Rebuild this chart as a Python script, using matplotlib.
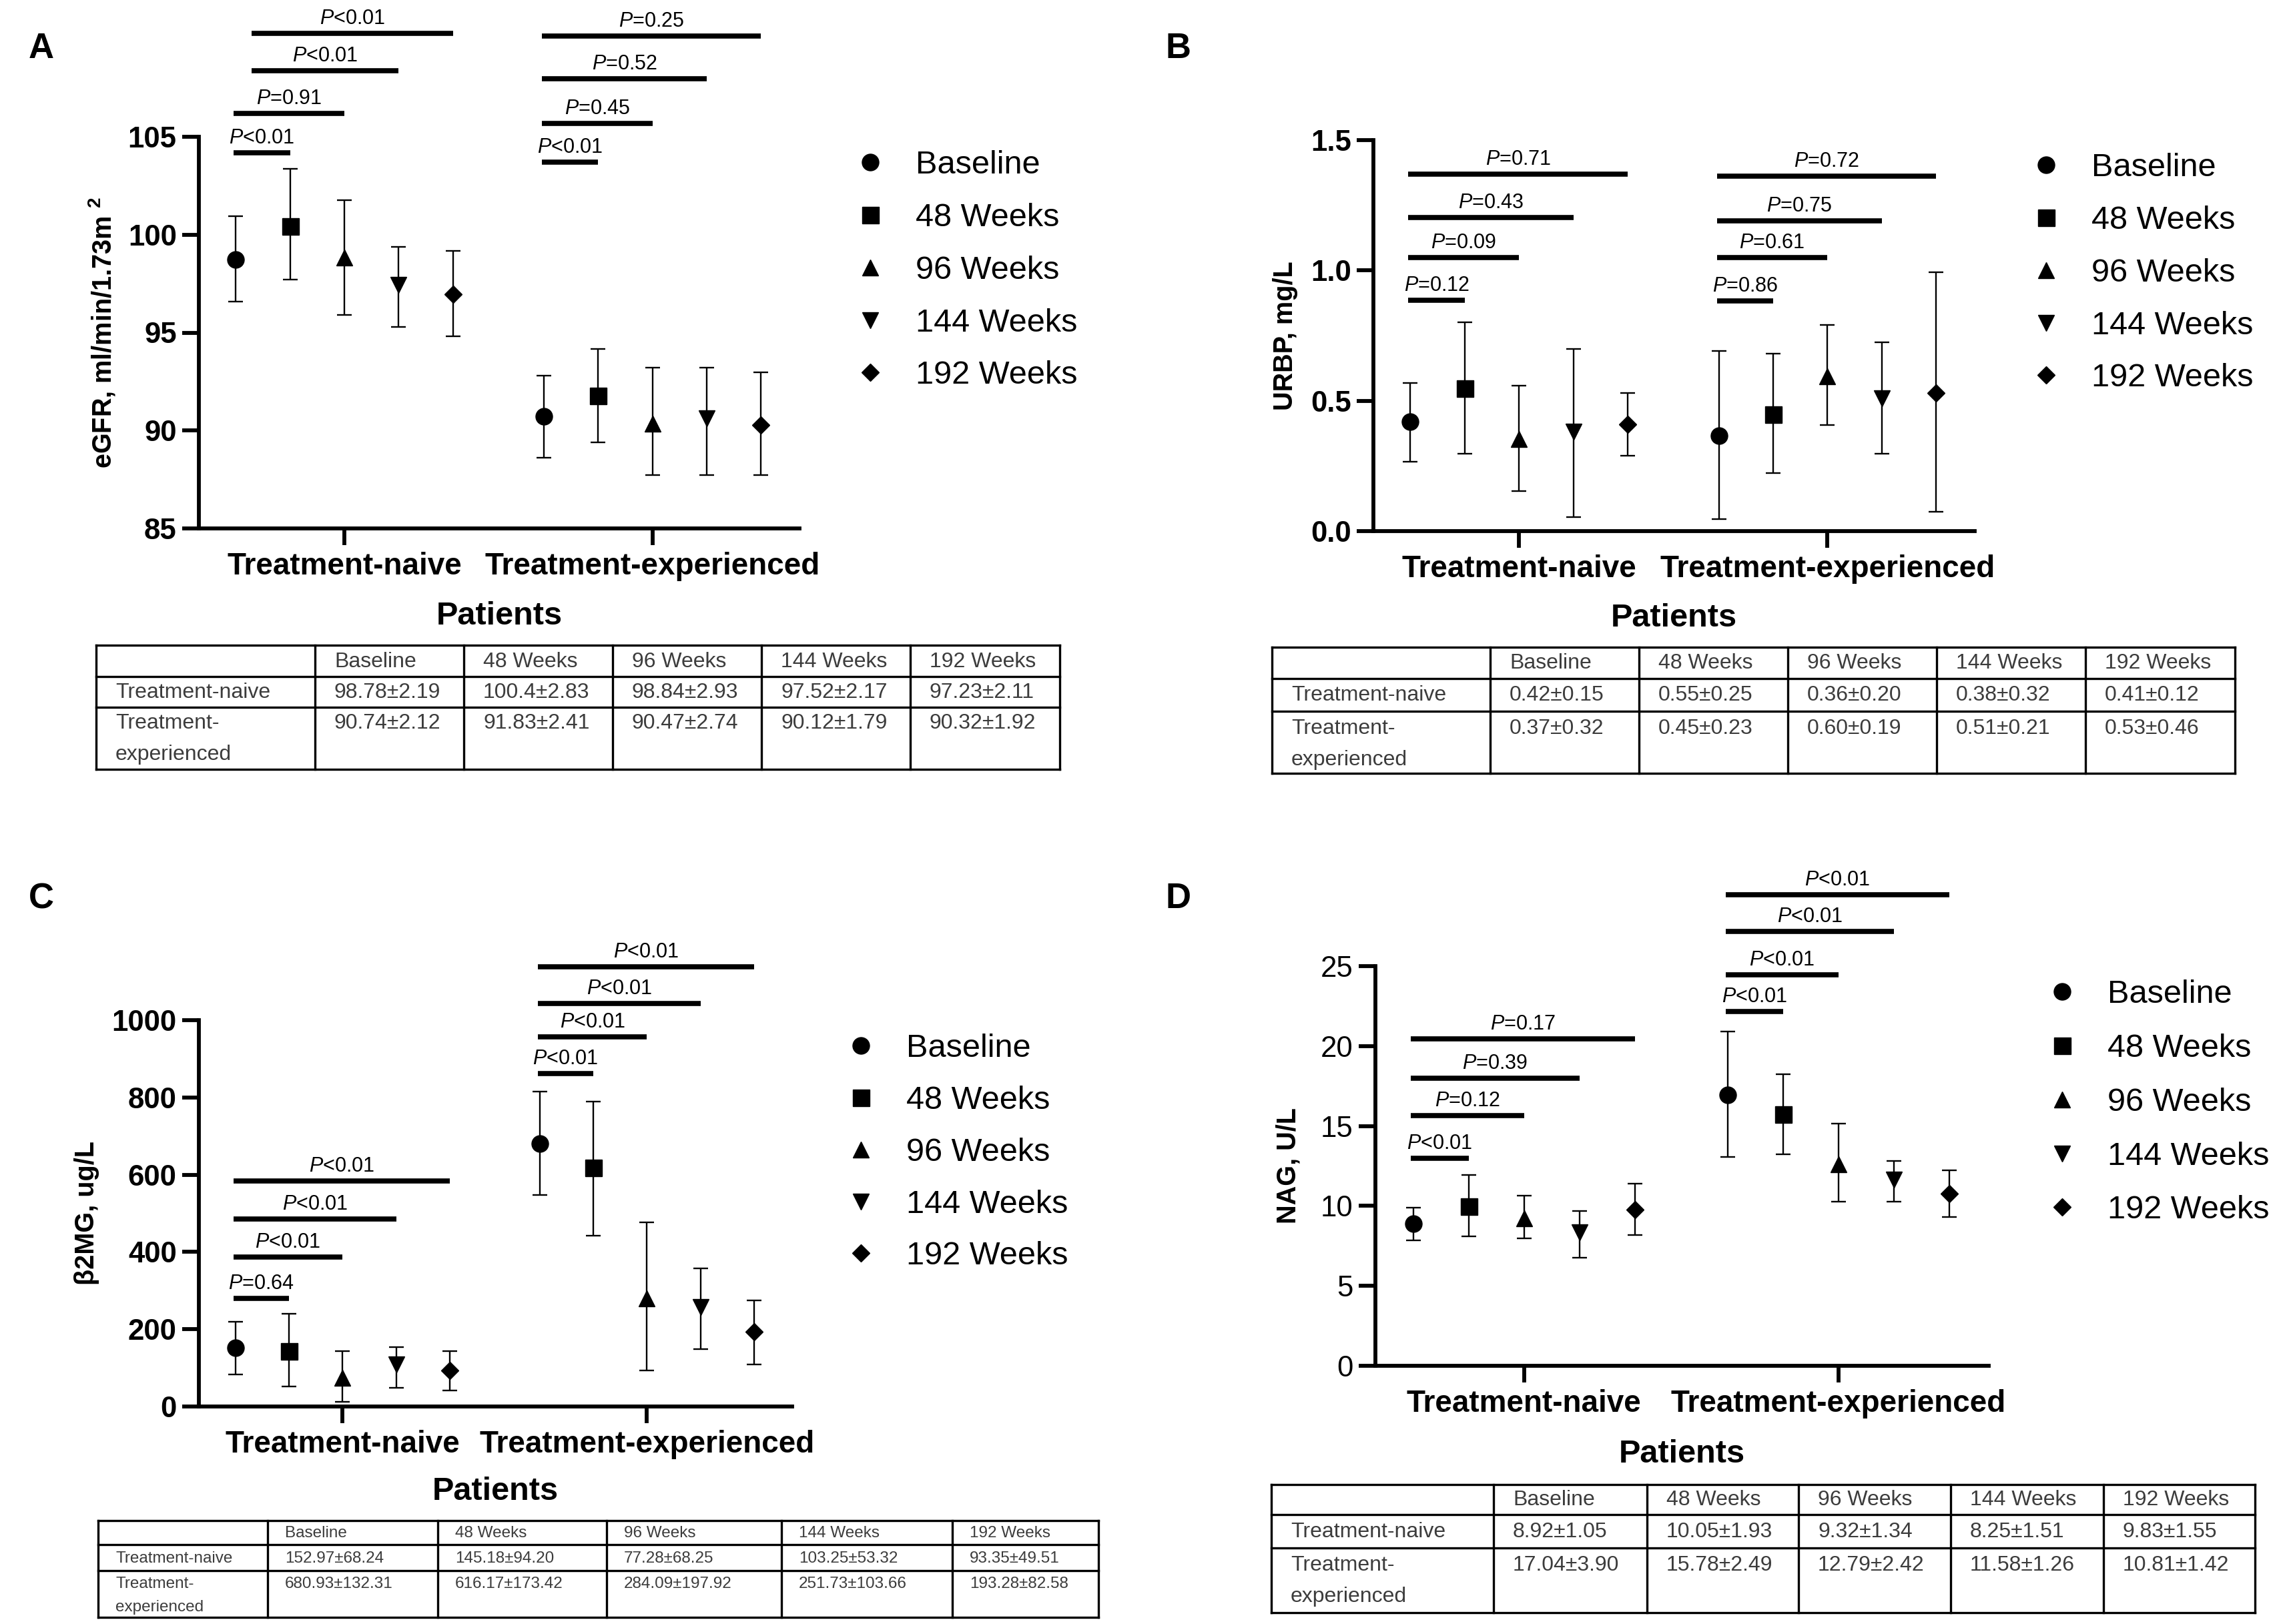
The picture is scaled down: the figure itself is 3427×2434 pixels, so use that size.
import numpy as np
import matplotlib
matplotlib.use('Agg')
import matplotlib.pyplot as plt
from matplotlib.lines import Line2D

plt.rcParams['font.family'] = ['Liberation Sans', 'DejaVu Sans']
plt.rcParams['mathtext.fontset'] = 'custom'
plt.rcParams['mathtext.it'] = 'Liberation Sans:italic'
plt.rcParams['mathtext.rm'] = 'Liberation Sans'
plt.rcParams['mathtext.bf'] = 'Liberation Sans:bold'

# ---------------- data ----------------
groups = ['Treatment-naive', 'Treatment-experienced']
timepoints = ['Baseline', '48 Weeks', '96 Weeks', '144 Weeks', '192 Weeks']
row_labels = ['Treatment-naive', 'Treatment-\nexperienced']

# Panel A: eGFR
egfr_naive_mean = [98.74, 100.44, 98.82, 97.44, 96.97]
egfr_naive_low = [96.60, 97.70, 95.90, 95.30, 94.80]
egfr_naive_high = [100.96, 103.38, 101.77, 99.37, 99.16]
egfr_exp_mean = [90.74, 91.78, 90.35, 90.61, 90.29]
egfr_exp_low = [88.62, 89.41, 87.71, 87.71, 87.71]
egfr_exp_high = [92.80, 94.18, 93.21, 93.21, 92.98]
egfr_p_naive = ['<0.01', '=0.91', '<0.01', '<0.01']
egfr_p_exp = ['<0.01', '=0.45', '=0.52', '=0.25']
egfr_bar_naive = [104.17, 106.2, 108.36, 110.27]
egfr_bar_exp = [103.70, 105.68, 107.95, 110.16]
egfr_bar_start_naive = [0, 0, 0.33, 0.33]
egfr_table_naive = ['98.78±2.19', '100.4±2.83', '98.84±2.93', '97.52±2.17', '97.23±2.11']
egfr_table_exp = ['90.74±2.12', '91.83±2.41', '90.47±2.74', '90.12±1.79', '90.32±1.92']

# Panel B: URBP
urbp_naive_mean = [0.420, 0.549, 0.353, 0.382, 0.410]
urbp_naive_low = [0.265, 0.298, 0.153, 0.055, 0.288]
urbp_naive_high = [0.567, 0.800, 0.559, 0.700, 0.529]
urbp_exp_mean = [0.367, 0.447, 0.594, 0.510, 0.529]
urbp_exp_low = [0.047, 0.222, 0.408, 0.298, 0.073]
urbp_exp_high = [0.692, 0.680, 0.792, 0.724, 0.992]
urbp_p_naive = ['=0.12', '=0.09', '=0.43', '=0.71']
urbp_p_exp = ['=0.86', '=0.61', '=0.75', '=0.72']
urbp_bar_naive = [0.886, 1.049, 1.202, 1.369]
urbp_bar_exp = [0.882, 1.049, 1.190, 1.361]
urbp_table_naive = ['0.42±0.15', '0.55±0.25', '0.36±0.20', '0.38±0.32', '0.41±0.12']
urbp_table_exp = ['0.37±0.32', '0.45±0.23', '0.60±0.19', '0.51±0.21', '0.53±0.46']

# Panel C: beta2MG
b2mg_naive_mean = [152.5, 143.4, 74.3, 109.5, 93.9]
b2mg_naive_low = [83.4, 52.0, 11.7, 48.2, 41.7]
b2mg_naive_high = [219.0, 240.0, 143.4, 153.8, 143.4]
b2mg_exp_mean = [680.6, 618.0, 280.3, 256.8, 193.0]
b2mg_exp_low = [547.6, 442.0, 93.9, 148.6, 108.2]
b2mg_exp_high = [814.9, 790.0, 477.2, 357.2, 275.1]
b2mg_p_naive = ['=0.64', '<0.01', '<0.01', '<0.01']
b2mg_p_exp = ['<0.01', '<0.01', '<0.01', '<0.01']
b2mg_bar_naive = [280, 387, 486, 583]
b2mg_bar_exp = [862, 957, 1043, 1138]
b2mg_table_naive = ['152.97±68.24', '145.18±94.20', '77.28±68.25', '103.25±53.32', '93.35±49.51']
b2mg_table_exp = ['680.93±132.31', '616.17±173.42', '284.09±197.92', '251.73±103.66', '193.28±82.58']

# Panel D: NAG
nag_naive_mean = [8.89, 9.99, 9.24, 8.35, 9.77]
nag_naive_low = [7.85, 8.10, 7.98, 6.75, 8.20]
nag_naive_high = [9.90, 11.95, 10.66, 9.68, 11.38]
nag_exp_mean = [16.96, 15.73, 12.61, 11.63, 10.78]
nag_exp_low = [13.08, 13.24, 10.28, 10.28, 9.30]
nag_exp_high = [20.90, 18.22, 15.16, 12.83, 12.23]
nag_p_naive = ['<0.01', '=0.12', '=0.39', '=0.17']
nag_p_exp = ['<0.01', '<0.01', '<0.01', '<0.01']
nag_bar_naive = [12.99, 15.67, 18.0, 20.46]
nag_bar_exp = [22.16, 24.46, 27.18, 29.48]
nag_table_naive = ['8.92±1.05', '10.05±1.93', '9.32±1.34', '8.25±1.51', '9.83±1.55']
nag_table_exp = ['17.04±3.90', '15.78±2.49', '12.79±2.42', '11.58±1.26', '10.81±1.42']

# ---------------- figure ----------------
W, H = 3427, 2434
fig = plt.figure(figsize=(W / 100, H / 100), dpi=100)

def fx(x):
    return x / W

def fy(y):
    return 1 - y / H

markers = ['o', 's', '^', 'v', 'D']
msizes = [18, 18, 17, 17, 13.5]
d = 0.176
XLIM = (-0.472, 1.477)


def panel(box, ylim, yticks, yticklabels, ylabel, ylab_x, tick_bold,
          naive, exp, bars, legend_pos, legend_pitch, patients_dy):
    l, r, t, b = box
    ax = fig.add_axes([fx(l), fy(b), fx(r - l), (b - t) / H])
    for i in range(5):
        xs = [0 + (i - 2) * d, 1 + (i - 2) * d]
        means = [naive[0][i], exp[0][i]]
        lows = [naive[1][i], exp[1][i]]
        highs = [naive[2][i], exp[2][i]]
        yerr = [np.array(means) - np.array(lows), np.array(highs) - np.array(means)]
        ax.errorbar(xs, means, yerr=yerr, fmt=markers[i], color='k', ms=msizes[i],
                    capsize=8, elinewidth=1.7, capthick=1.7, clip_on=False, zorder=3)
    ax.set_xlim(*XLIM)
    ax.set_ylim(*ylim)
    ax.set_yticks(yticks)
    ax.set_yticklabels(yticklabels, fontsize=31.5,
                       fontweight='bold' if tick_bold else 'normal')
    ax.set_xticks([0, 1])
    ax.set_xticklabels(groups, fontsize=33, fontweight='bold')
    for s in ['top', 'right']:
        ax.spines[s].set_visible(False)
    for s in ['left', 'bottom']:
        ax.spines[s].set_linewidth(4.2)
    ax.tick_params(axis='both', length=18, width=4.2, pad=6)
    ax.tick_params(axis='x', pad=7)
    ax.set_ylabel(ylabel, fontsize=28.5, fontweight='bold', va='center')
    ax.yaxis.set_label_coords((ylab_x - l) / (r - l), 0.5)
    ax.text(0.5, -patients_dy / (b - t), 'Patients', transform=ax.transAxes,
            ha='center', va='center', fontsize=35, fontweight='bold')
    # significance bars
    for g, (ys_, labs, starts) in enumerate(bars):
        for k in range(4):
            x0 = g + (starts[k] - 2) * d - 0.04 * d
            x1 = g + (k - 1) * d
            ax.plot([x0, x1], [ys_[k], ys_[k]], color='k', lw=5.5,
                    solid_capstyle='butt', clip_on=False)
            ax.annotate(r'$\mathit{P}$' + labs[k], ((x0 + x1) / 2, ys_[k]),
                        xytext=(0, 5), textcoords='offset points', ha='center',
                        va='bottom', fontsize=22, annotation_clip=False)
    # legend
    F = 35 / 0.72
    mx, my = legend_pos
    handles = [Line2D([], [], ls='none', marker=m, color='k', ms=s)
               for m, s in zip(markers, msizes)]
    ax.legend(handles, timepoints, loc='upper left',
              bbox_to_anchor=(fx(mx - 0.5 * F), fy(my - 0.6 * F + 11)),
              bbox_transform=fig.transFigure, frameon=False, fontsize=35,
              handlelength=1.0, handletextpad=0.9,
              labelspacing=(legend_pitch - 45.1) / F,
              borderpad=0, borderaxespad=0)
    return ax


panel((298, 1198, 205, 792), (85, 105), [85, 90, 95, 100, 105],
      ['85', '90', '95', '100', '105'], r'eGFR, ml/min/1.73m $^{\mathbf{2}}$', 152, True,
      (egfr_naive_mean, egfr_naive_low, egfr_naive_high),
      (egfr_exp_mean, egfr_exp_low, egfr_exp_high),
      [(egfr_bar_naive, egfr_p_naive, egfr_bar_start_naive),
       (egfr_bar_exp, egfr_p_exp, [0, 0, 0, 0])],
      (1304, 243), 79, 132)

panel((2058, 2959, 210, 796), (0, 1.5), [0, 0.5, 1.0, 1.5],
      ['0.0', '0.5', '1.0', '1.5'], 'URBP, mg/L', 1926, True,
      (urbp_naive_mean, urbp_naive_low, urbp_naive_high),
      (urbp_exp_mean, urbp_exp_low, urbp_exp_high),
      [(urbp_bar_naive, urbp_p_naive, [0, 0, 0, 0]),
       (urbp_bar_exp, urbp_p_exp, [0, 0, 0, 0])],
      (3066, 247), 79, 130)

panel((298, 1187, 1529, 2108), (0, 1000), [0, 200, 400, 600, 800, 1000],
      ['0', '200', '400', '600', '800', '1000'], 'β2MG, ug/L', 130, True,
      (b2mg_naive_mean, b2mg_naive_low, b2mg_naive_high),
      (b2mg_exp_mean, b2mg_exp_low, b2mg_exp_high),
      [(b2mg_bar_naive, b2mg_p_naive, [0, 0, 0, 0]),
       (b2mg_bar_exp, b2mg_p_exp, [0, 0, 0, 0])],
      (1290, 1567), 78, 127)

panel((2061, 2980, 1448, 2047), (0, 25), [0, 5, 10, 15, 20, 25],
      ['0', '5', '10', '15', '20', '25'], 'NAG, U/L', 1931, False,
      (nag_naive_mean, nag_naive_low, nag_naive_high),
      (nag_exp_mean, nag_exp_low, nag_exp_high),
      [(nag_bar_naive, nag_p_naive, [0, 0, 0, 0]),
       (nag_bar_exp, nag_p_exp, [0, 0, 0, 0])],
      (3090, 1486), 81, 132)

# ---------------- overlay: letters and tables ----------------
ov = fig.add_axes([0, 0, 1, 1])
ov.set_xlim(0, W)
ov.set_ylim(H, 0)
ov.axis('off')

for letter, (lx, ly) in zip('ABCD', [(62, 73), (1766, 73), (62, 1347), (1766, 1347)]):
    ov.text(lx, ly, letter, fontsize=38, fontweight='bold', ha='center', va='center')


def draw_table(xs, ys, naive_vals, exp_vals, fs, line2_dy, pad):
    for x in xs:
        ov.plot([x, x], [ys[0], ys[-1]], color='k', lw=2.4, solid_capstyle='projecting')
    for y in ys:
        ov.plot([xs[0], xs[-1]], [y, y], color='k', lw=2.4, solid_capstyle='projecting')
    col = '#3c3c3c'
    yc0 = (ys[0] + ys[1]) / 2 + 1
    yc1 = (ys[1] + ys[2]) / 2 + 1
    yc2 = ys[2] + (ys[2] - ys[1]) / 2 + 1
    for j in range(5):
        ov.text(xs[j + 1] + pad, yc0, timepoints[j], fontsize=fs, color=col, va='center')
        ov.text(xs[j + 1] + pad, yc1, naive_vals[j], fontsize=fs, color=col, va='center')
        ov.text(xs[j + 1] + pad, yc2, exp_vals[j], fontsize=fs, color=col, va='center')
    ov.text(xs[0] + pad, yc1, row_labels[0], fontsize=fs, color=col, va='center')
    for n, part in enumerate(row_labels[1].split('\n')):
        ov.text(xs[0] + pad, yc2 + n * line2_dy, part, fontsize=fs, color=col, va='center')


draw_table([144, 472, 695, 918, 1141, 1364, 1588], [967, 1014, 1060, 1153],
           egfr_table_naive, egfr_table_exp, 23, 47, 29)
draw_table([1906, 2233, 2456, 2679, 2902, 3125, 3349], [970, 1017, 1066, 1159],
           urbp_table_naive, urbp_table_exp, 23, 47, 29)
draw_table([147, 401, 656, 909, 1171, 1427, 1646], [2279, 2315, 2354, 2424],
           b2mg_table_naive, b2mg_table_exp, 17.5, 35, 26)
draw_table([1905, 2238, 2468, 2695, 2923, 3152, 3379], [2225, 2270, 2320, 2417],
           nag_table_naive, nag_table_exp, 23, 47, 29)

fig.savefig('out.png', dpi=100, facecolor='white')
